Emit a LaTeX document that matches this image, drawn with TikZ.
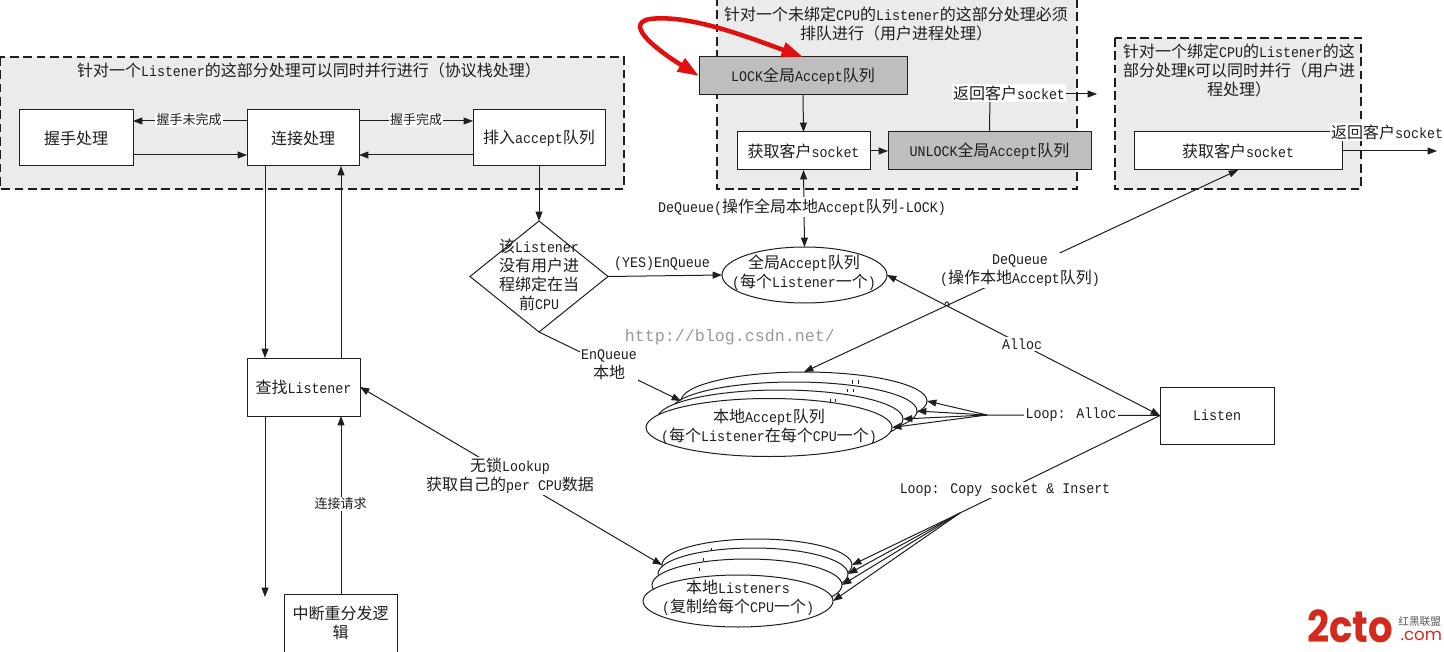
\documentclass[tikz,border=0pt]{standalone}
\usepackage{fontspec}
\usetikzlibrary{arrows.meta,shapes.geometric}
\setmainfont{Liberation Mono}[Scale=0.92,FakeStretch=0.905]
\newfontfamily\cjk{Noto Sans CJK SC}
\newfontfamily\logofont{Poppins}
\newfontfamily\wmfont{Liberation Mono}
\newcommand\zh[1]{{\cjk #1}}
\definecolor{ink}{HTML}{1E1E1E}
\definecolor{panel}{HTML}{EBEBEB}
\definecolor{dark}{HTML}{BEBEBE}
\definecolor{redc}{HTML}{E01010}
\definecolor{logored}{HTML}{D42A1E}
\tikzset{
  x=0.75pt,y=-0.75pt,
  every node/.style={inner sep=0pt,outer sep=0pt,font=\fontsize{12}{14.25}\selectfont,text=ink,align=center},
  sz/.style 2 args={minimum width=#1*0.75pt,minimum height=#2*0.75pt},
  panelbox/.style={draw=ink,fill=panel,dash pattern=on 6.5pt off 3.5pt,line width=0.95pt},
  plain/.style={rectangle,draw=ink,fill=white,line width=0.75pt},
  shade/.style={rectangle,draw=ink,fill=dark,line width=0.75pt},
  oval/.style={ellipse,draw=ink,fill=white,line width=0.75pt},
  flag/.style={fill=white,inner xsep=1pt,inner ysep=1pt},
  small/.style={font=\fontsize{9.75}{12}\selectfont},
  conn/.style={draw=ink,line width=0.75pt},
  arr/.style={conn,-{Triangle[length=7pt,width=5.2pt]}},
  arrb/.style={conn,{Triangle[length=7pt,width=5.2pt]}-{Triangle[length=7pt,width=5.2pt]}},
}
\begin{document}
\begin{tikzpicture}
\useasboundingbox (0,0) rectangle (1444,652);
\fill[white] (0,0) rectangle (1444,652);
% panels
\draw[panelbox] (0,57) rectangle (624,189);
\draw[panelbox] (717,-3) rectangle (1077,189);
\draw[panelbox] (1115,38) rectangle (1361,189);
\node (t1) at (309,70) {\zh{针对一个}Listener\zh{的这部分处理可以同时并行进行（协议栈处理）}};
\node (t2) at (896,23.5) {\zh{针对一个未绑定}CPU\zh{的}Listener\zh{的这部分处理必须}\\\zh{排队进行（用户进程处理）}};
\node (t3) at (1239,70.5) {\zh{针对一个绑定}CPU\zh{的}Listener\zh{的这}\\\zh{部分处理}K\zh{可以同时并行（用户进}\\\zh{程处理）}};
% boxes
\node[plain,sz={114}{56}] (hs) at (76,138) {\zh{握手处理}};
\node[plain,sz={112}{56}] (cn) at (303,138) {\zh{连接处理}};
\node[plain,sz={132}{56}] (aq) at (539,138) {\zh{排入}accept\zh{队列}};
\node[plain,sz={113}{58}] (fl) at (303.5,387) {\zh{查找}Listener};
\node[plain,sz={113}{58}] (ir) at (340.5,623) {\zh{中断重分发逻}\\\zh{辑}};
\node[shade,sz={208}{38}] (lk) at (803,76) {LOCK\zh{全局}Accept\zh{队列}};
\node[plain,sz={133}{38}] (gs) at (803.5,151) {\zh{获取客户}socket};
\node[shade,sz={203}{38}] (ul) at (989.5,151) {UNLOCK\zh{全局}Accept\zh{队列}};
\node[plain,sz={208}{38}] (gb) at (1238,151) {\zh{获取客户}socket};
\node[plain,sz={114}{57}] (ls) at (1217,415.5) {Listen};
% decision
\node[diamond,draw=ink,fill=white,line width=0.75pt,sz={138}{111},aspect=1.24] (dq) at (539,276.5) {};
\node (dqt) at (539,275) {\zh{该}Listener\\\zh{没有用户进}\\\zh{程绑定在当}\\\zh{前}CPU};
% ovals
\node[oval,sz={165}{56}] (ga) at (804.5,275) {};
\node (gat) at (804,273) {\zh{全局}Accept\zh{队列}\\(\zh{每个}Listener\zh{一个})};
\node[oval,sz={246}{58}] (la1) at (804,401) {};
\draw[conn] (852,383.5) -- (852,380) (858,383.5) -- (858,380);
\node[oval,sz={246}{58}] (la2) at (794,411) {};
\draw[conn] (847,392) -- (847,389) (853,392) -- (853,389);
\node[oval,sz={246}{58}] (la3) at (780,419) {};
\draw[conn] (830,402) -- (830,399) (835,402) -- (835,399);
\node[oval,sz={246}{58}] (la4) at (769,427.5) {};
\node (lat) at (769,427) {\zh{本地}Accept\zh{队列}\\(\zh{每个}Listener\zh{在每个}CPU\zh{一个})};
\node[oval,sz={190}{52}] (ll1) at (757,565) {};
\draw[conn] (711,551) -- (711,548);
\node[oval,sz={190}{52}] (ll2) at (753,574) {};
\draw[conn] (703,561) -- (703,558);
\node[oval,sz={190}{52}] (ll3) at (747,585) {};
\draw[conn] (699,571) -- (699,568);
\node[oval,sz={190}{52}] (ll4) at (738,601) {};
\node (llt) at (738,598) {\zh{本地}Listeners\\(\zh{复制给每个}CPU\zh{一个})};
% helper coordinates
\coordinate (hub1) at (987,415);
\coordinate (hub2) at (960,513);
\coordinate (rout) at (1097,94);
\coordinate (gbo) at (1437,151);
\coordinate (irdn) at (265,597);
% top-left connectors
\draw[arr] (cn.west |- 0,121) -- (hs.east |- 0,121);
\draw[arr] (hs.east |- 0,155) -- (cn.west |- 0,155);
\draw[arr] (cn.east |- 0,121) -- (aq.west |- 0,121);
\draw[arr] (aq.west |- 0,155) -- (cn.east |- 0,155);
\node[flag,small] at (189,120) {\zh{握手未完成}};
\node[flag,small] at (416,120) {\zh{握手完成}};
\draw[arr] (265,166) -- (265,358);
\draw[arr] (341,358) -- (341,166);
\draw[arr] (fl.south -| irdn) -- (irdn);
\draw[arr] (ir.north -| 341,0) -- (fl.south -| 341,0);
\node[flag,small] at (340.5,504) {\zh{连接请求}};
\draw[arr] (aq.south) -- (dq.north);
\draw[arr] (dq.east) -- (ga.west);
\node at (662,264) {(YES)EnQueue};
% gate connectors
\draw[arr] (lk.south) -- (gs.north);
\draw[arr] (gs.east) -- (ul.west);
\draw[conn] (ul.north) -- (990,94);
\draw[arr] (990,94) -- (rout);
\node[flag] at (1009,93) {\zh{返回客户}socket};
\draw[arrb] (gs.south) -- (ga.north);
\node[flag] at (802,207) {DeQueue(\zh{操作全局本地}Accept\zh{队列}-LOCK)};
\draw[arr] (gb.east) -- (gbo);
\node[flag] at (1387,132) {\zh{返回客户}socket};
% long diagonals
\draw[arrb] (la1.north) -- (gb.south);
\node[flag] at (1020,270.5) {DeQueue\\(\zh{操作本地}Accept\zh{队列})};
\draw[arrb] (ga.east) -- (ls.west);
\draw[conn] (945,304) .. controls (946,300.5) and (949,301.5) .. (949,306);
\node[flag] at (1022,344) {Alloc};
\draw[arr] (dq.south) -- (la1.west);
\node[flag] at (609,365) {EnQueue\\\zh{本地}};
\draw[arrb] (fl.east) -- (ll1.west);
\node[flag] at (510,476) {\zh{无锁}Lookup\\\zh{获取自己的}per CPU\zh{数据}};
% fans
\draw[conn] (hub1) -- (ls.west);
\foreach \e in {la1,la2,la3,la4}{\draw[arr] (hub1) -- (\e.east);}
\node[flag] at (1071,415) {Loop: Alloc};
\draw[conn] (ls.west) -- (hub2);
\foreach \e in {ll1,ll2,ll3,ll4}{\draw[arr] (hub2) -- (\e.east);}
\node[flag] at (1005,490) {Loop: Copy socket \& Insert};
% red loop
\draw[redc,line width=3.4pt,{Triangle[length=16pt,width=11pt]}-{Triangle[length=16pt,width=11pt]}] (lk.west) .. controls (660,52) and (622,24) .. (650,19) .. controls (690,14) and (750,38) .. (lk.north);
% watermark
\node[text=black!40,font=\wmfont\fontsize{12.5}{14}\selectfont] (wm) at (730,337) {http://blog.csdn.net/};
% logo
\node[text=logored,font=\logofont\bfseries\fontsize{33}{33}\selectfont,anchor=base west,xscale=0.88] (lg) at (1307,642) {2cto};
\node[text=logored,font=\logofont\fontsize{12.5}{13}\selectfont,anchor=base east] (lc) at (1442,640) {.com};
\node[text=black!65,font=\cjk\fontsize{8}{8}\selectfont,anchor=base east] (lr) at (1441,625) {红黑联盟};
\end{tikzpicture}
\end{document}
